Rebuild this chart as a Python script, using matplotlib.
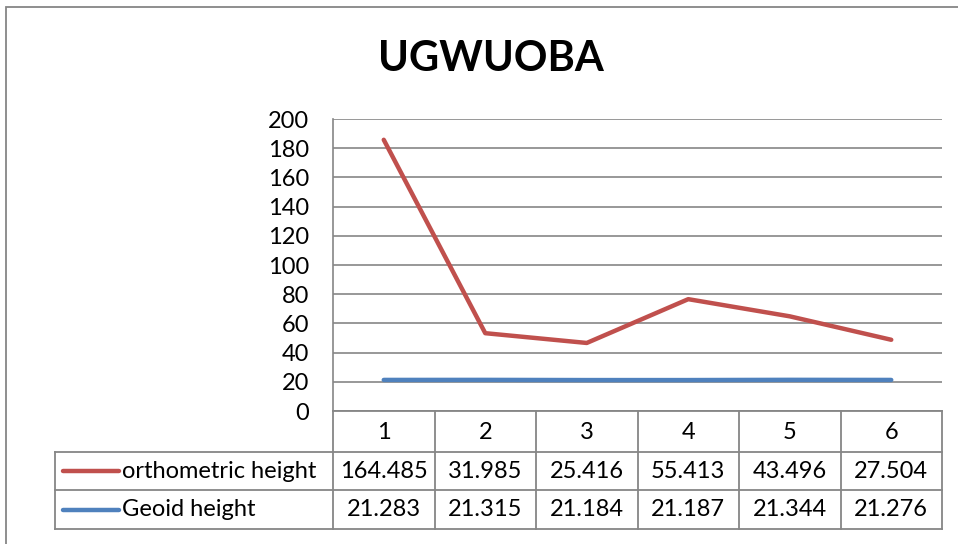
"""UGWUOBA: orthometric vs geoid height, stacked line chart with a data table."""
import matplotlib
matplotlib.use("Agg")
import matplotlib.pyplot as plt
import numpy as np
from matplotlib.patches import Rectangle

plt.rcParams["font.family"] = ["Lato", "DejaVu Sans"]

# data
points = ["1", "2", "3", "4", "5", "6"]
ortho = [164.485, 31.985, 25.416, 55.413, 43.496, 27.504]
geoid = [21.283, 21.315, 21.184, 21.187, 21.344, 21.276]
series_names = ["orthometric height", "Geoid height"]
title = "UGWUOBA"

RED = "#C0504D"
BLUE = "#4F81BD"
GRID = "#868686"

W, H = 958, 544
fig = plt.figure(figsize=(W / 100, H / 100), dpi=100)


def px(x0, y0, x1, y1):
    """pixel box (top-left origin) -> figure rect."""
    return [x0 / W, 1 - y1 / H, (x1 - x0) / W, (y1 - y0) / H]


# outer chart border
fig.patches.append(Rectangle((6 / W, -0.1), 1.2, 1 - 7 / H + 0.1,
                             transform=fig.transFigure, fill=False,
                             edgecolor=GRID, lw=1.3))

fig.text(491 / W, 1 - 59 / H, title, ha="center", va="center",
         fontsize=30, fontweight="bold")

# plot area
x_left, x_right, y_top, y_bot = 333, 942, 119, 411
ax = fig.add_axes(px(x_left, y_top, x_right, y_bot))
n = len(points)
x = np.arange(n)
stacked = np.array(ortho) + np.array(geoid)
ax.plot(x, geoid, color=BLUE, lw=3.2, solid_capstyle="round", zorder=3)
ax.plot(x, stacked, color=RED, lw=3.2, solid_capstyle="round", zorder=3)
ax.set_xlim(-0.5, n - 0.5)
ax.set_ylim(0, 200)
ax.set_yticks(np.arange(0, 201, 20))
ax.set_xticks([])
ax.grid(axis="y", color=GRID, lw=1.2)
ax.set_axisbelow(True)
for s in ["top", "right", "bottom"]:
    ax.spines[s].set_visible(False)
ax.spines["left"].set_color(GRID)
ax.spines["left"].set_linewidth(1.2)
ax.tick_params(axis="y", length=0, pad=17, labelsize=17)

# data table below the plot
tab = fig.add_axes(px(55, 411, 942, 529))
tab.set_xlim(55, 942)
tab.set_ylim(529, 411)
tab.axis("off")
col_w = (x_right - x_left) / n
col_edges = [x_left + i * col_w for i in range(n + 1)]
row_edges = [411, 452, 490, 529]
lk = dict(color=GRID, lw=1.3, clip_on=False)
# header row (only over data columns)
tab.plot([x_left, x_right], [row_edges[0]] * 2, **lk)
for r in row_edges[1:]:
    tab.plot([55, x_right], [r, r], **lk)
for c in col_edges:
    tab.plot([c, c], [row_edges[0], row_edges[-1]], **lk)
tab.plot([55, 55], [row_edges[1], row_edges[-1]], **lk)

fs = 17
for i, p in enumerate(points):
    cx = col_edges[i] + col_w / 2
    tab.text(cx, (row_edges[0] + row_edges[1]) / 2 + 1, p, ha="center", va="center", fontsize=fs)
    tab.text(cx, (row_edges[1] + row_edges[2]) / 2, f"{ortho[i]:.3f}", ha="center", va="center", fontsize=fs)
    tab.text(cx, (row_edges[2] + row_edges[3]) / 2, f"{geoid[i]:.3f}", ha="center", va="center", fontsize=fs)

for k, (name, col) in enumerate(zip(series_names, [RED, BLUE])):
    yc = (row_edges[k + 1] + row_edges[k + 2]) / 2
    tab.plot([63, 119], [yc, yc], color=col, lw=3.2, solid_capstyle="round")
    tab.text(122, yc, name, ha="left", va="center", fontsize=fs)

fig.savefig("out.png", dpi=100)
